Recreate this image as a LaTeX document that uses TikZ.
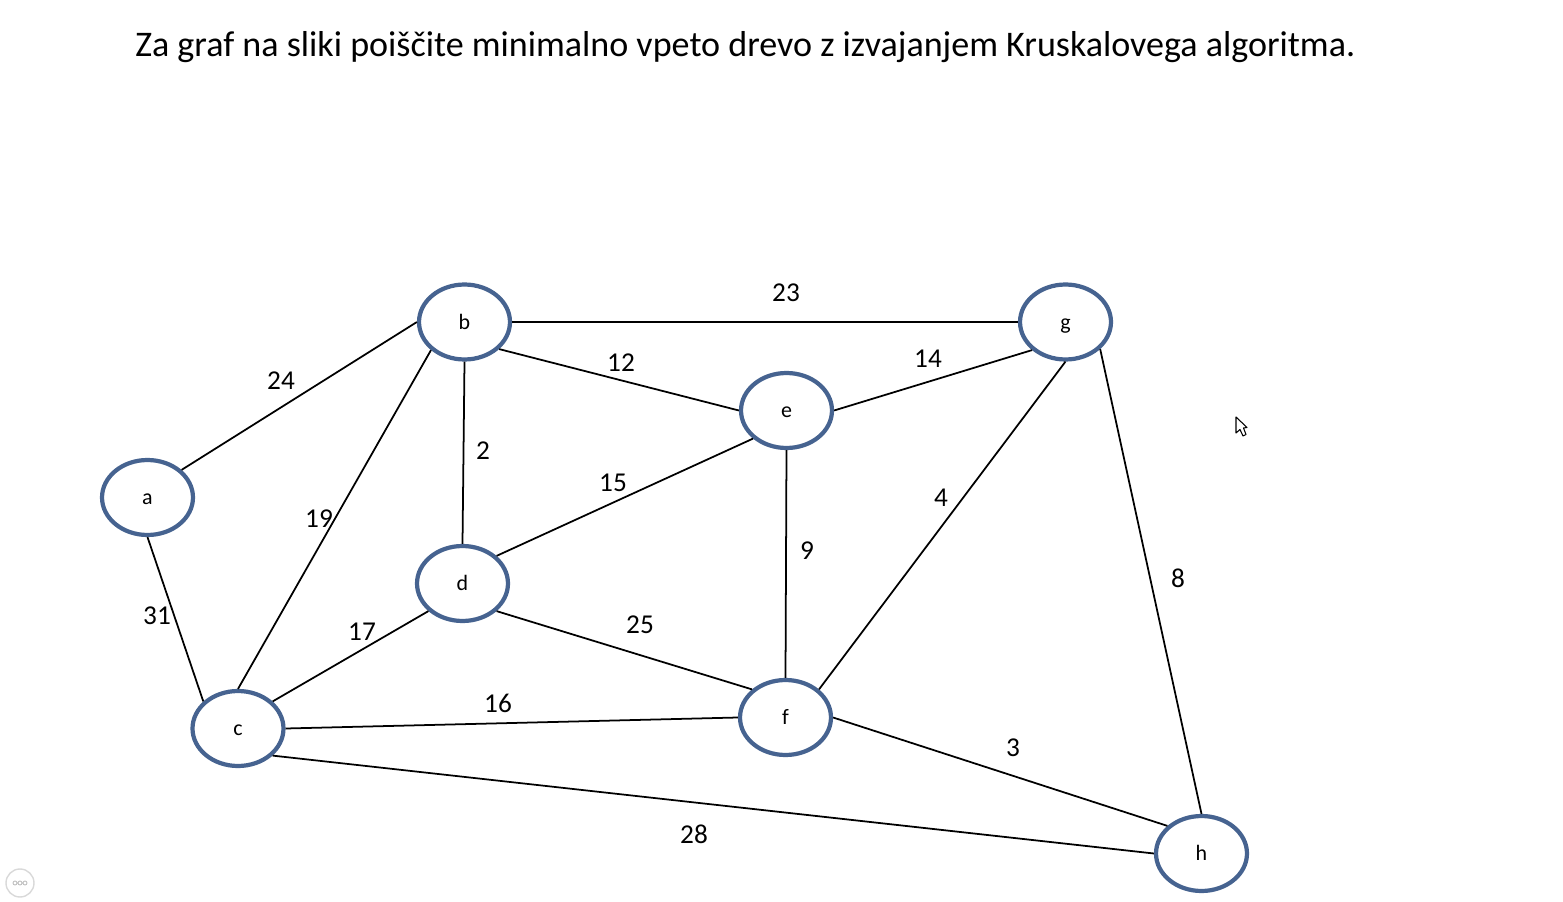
\documentclass[tikz,border=0pt]{standalone}
\usepackage{fontspec}
\setmainfont{Carlito}
\usetikzlibrary{shapes.geometric}
\definecolor{vertexblue}{HTML}{466390}
\tikzset{
  vertex/.style={ellipse,draw=vertexblue,line width=2.4pt,fill=white,inner sep=0pt,minimum width=1.82cm,minimum height=1.5cm,text height=1.7ex,text depth=0ex,font=\fontsize{12.5}{14}\selectfont},
  weight/.style={inner sep=0pt,font=\fontsize{15.5}{18}\selectfont},
  edge/.style={line width=1pt,black}
}

\begin{document}
\begin{tikzpicture}[x=0.02cm,y=-0.02cm]
  \useasboundingbox (0,0) rectangle (1563,902);

  \node[inner sep=0pt,anchor=west,font=\fontsize{20.52}{24}\selectfont] (title) at (135,47) {Za graf na sliki poiščite minimalno vpeto drevo z izvajanjem Kruskalovega algoritma.};

  \node[vertex] (a) at (147.5,497.5) {a};
  \node[vertex] (b) at (464.5,322) {b};
  \node[vertex] (c) at (238,728.5) {c};
  \node[vertex] (d) at (462.5,583.5) {d};
  \node[vertex] (e) at (786.5,410.5) {e};
  \node[vertex] (f) at (785.5,717.5) {f};
  \node[vertex] (g) at (1065.5,322) {g};
  \node[vertex] (h) at (1201.5,853.5) {h};

  \draw[edge] (a.39) -- (b.west);
  \draw[edge] (a.south) -- (c.142);
  \draw[edge] (b.220) -- (c.north);
  \draw[edge] (b.south) -- (d.north);
  \draw[edge] (b.-38) -- (e.west);
  \draw[edge] (b.east) -- (g.west);
  \draw[edge] (e.east) -- (g.220);
  \draw[edge] (d.39) -- (e.220);
  \draw[edge] (e.south) -- (f.north);
  \draw[edge] (d.-39) -- (f.140);
  \draw[edge] (d.219) -- (c.38);
  \draw[edge] (c.east) -- (f.west);
  \draw[edge] (f.40) -- (g.south);
  \draw[edge] (g.-38) -- (h.north);
  \draw[edge] (f.east) -- (h.141);
  \draw[edge] (c.-38) -- (h.west);

  \node[weight] (w24) at (281,381) {24};
  \node[weight] (w31) at (157,616) {31};
  \node[weight] (w19) at (319,519) {19};
  \node[weight] (w2) at (483,451) {2};
  \node[weight] (w12) at (621,363) {12};
  \node[weight] (w23) at (786,293) {23};
  \node[weight] (w14) at (928,359) {14};
  \node[weight] (w15) at (613,483) {15};
  \node[weight] (w9) at (807,551) {9};
  \node[weight] (w25) at (640,625) {25};
  \node[weight] (w17) at (362,632) {17};
  \node[weight] (w16) at (498,703) {16};
  \node[weight] (w4) at (941,498) {4};
  \node[weight] (w8) at (1178,578) {8};
  \node[weight] (w3) at (1013,748) {3};
  \node[weight] (w28) at (694,834) {28};

  \draw[line width=0.6pt,fill=white,line join=round] (1236,417) -- (1236,433) -- (1240,429.5) -- (1243,436) -- (1246,434.5) -- (1243.5,428) -- (1247,427.5) -- cycle;

  \draw[black!15,line width=0.8pt] (20,883) circle (14);
  \draw[black!25,line width=0.5pt] (15,883) circle (2) (20,883) circle (2) (25,883) circle (2);
\end{tikzpicture}
\end{document}
